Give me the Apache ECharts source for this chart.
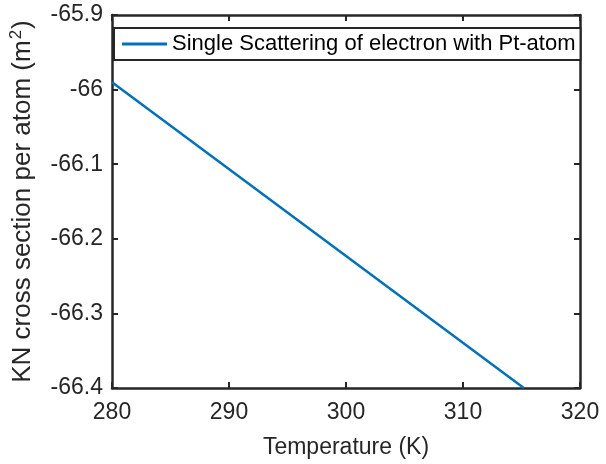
<!DOCTYPE html>
<html>
<head>
<meta charset="utf-8">
<script src="https://cdn.jsdelivr.net/npm/echarts@6/dist/echarts.min.js"></script>
<style>html,body{margin:0;padding:0;background:#fff;}#c{width:606px;height:464px;}</style>
</head>
<body>
<div id="c"></div>
<script>
const temperature = [280, 315.2];
const crossSection = [-65.99, -66.4];
const xTicks = [280, 290, 300, 310, 320];
const yTicks = [-66.4, -66.3, -66.2, -66.1, -66, -65.9];
const seriesName = 'Single Scattering of electron with Pt-atom';

const chart = echarts.init(document.getElementById('c'));
const font = 'Liberation Sans, Arial, sans-serif';
const axisCol = '#262626';
const data = temperature.map((t, i) => [t, crossSection[i]]);

const tickCommon = { show: true, inside: true, length: 6, lineStyle: { color: axisCol, width: 2 } };

chart.setOption({
  animation: false,
  grid: { left: 110, right: 26, top: 15, bottom: 75, show: false },
  legend: {
    show: true,
    left: 114, top: 28,
    data: [seriesName],
    icon: 'rect', itemWidth: 45, itemHeight: 3,
    itemGap: 4,
    padding: [5, 5, 5, 8],
    borderColor: axisCol, borderWidth: 2, borderRadius: 0,
    backgroundColor: '#fff',
    textStyle: { color: '#000', fontFamily: font, fontSize: 22 }
  },
  xAxis: [{
    type: 'value', min: 280, max: 320, interval: 10, position: 'bottom',
    axisLine: { show: true, onZero: false, lineStyle: { color: axisCol, width: 2.5 } },
    axisTick: tickCommon,
    splitLine: { show: false },
    axisLabel: { color: axisCol, fontFamily: font, fontSize: 23, margin: 13,
      formatter: v => xTicks.includes(v) ? String(v) : '' },
    name: 'Temperature (K)', nameLocation: 'middle', nameGap: 48,
    nameTextStyle: { color: axisCol, fontFamily: font, fontSize: 23 }
  }, {
    type: 'value', min: 280, max: 320, interval: 10, position: 'top',
    axisLine: { show: true, onZero: false, lineStyle: { color: axisCol, width: 2.5 } },
    axisTick: tickCommon, axisLabel: { show: false }, splitLine: { show: false }
  }],
  yAxis: [{
    type: 'value', min: -66.4, max: -65.9, interval: 0.1, position: 'left',
    axisLine: { show: true, onZero: false, lineStyle: { color: axisCol, width: 2.5 } },
    axisTick: tickCommon,
    splitLine: { show: false },
    axisLabel: { color: axisCol, fontFamily: font, fontSize: 23, margin: 9,
      formatter: v => { const r = Math.round(v * 10) / 10; return String(r); } },
    name: '{a|KN cross section per atom (m}{s|2}{a|)}',
    nameLocation: 'middle', nameGap: 75, nameRotate: 90,
    nameTextStyle: {
      rich: {
        a: { color: axisCol, fontFamily: font, fontSize: 26 },
        s: { color: axisCol, fontFamily: font, fontSize: 17, verticalAlign: 'top', padding: [0, 1, 12, 1] }
      }
    }
  }, {
    type: 'value', min: -66.4, max: -65.9, interval: 0.1, position: 'right',
    axisLine: { show: true, onZero: false, lineStyle: { color: axisCol, width: 2.5 } },
    axisTick: tickCommon, axisLabel: { show: false }, splitLine: { show: false }
  }],
  series: [{
    name: seriesName, type: 'line', data: data,
    xAxisIndex: 0, yAxisIndex: 0,
    showSymbol: false, symbol: 'none',
    lineStyle: { color: '#0072BD', width: 2.5 },
    itemStyle: { color: '#0072BD' }
  }]
});
</script>
</body>
</html>
